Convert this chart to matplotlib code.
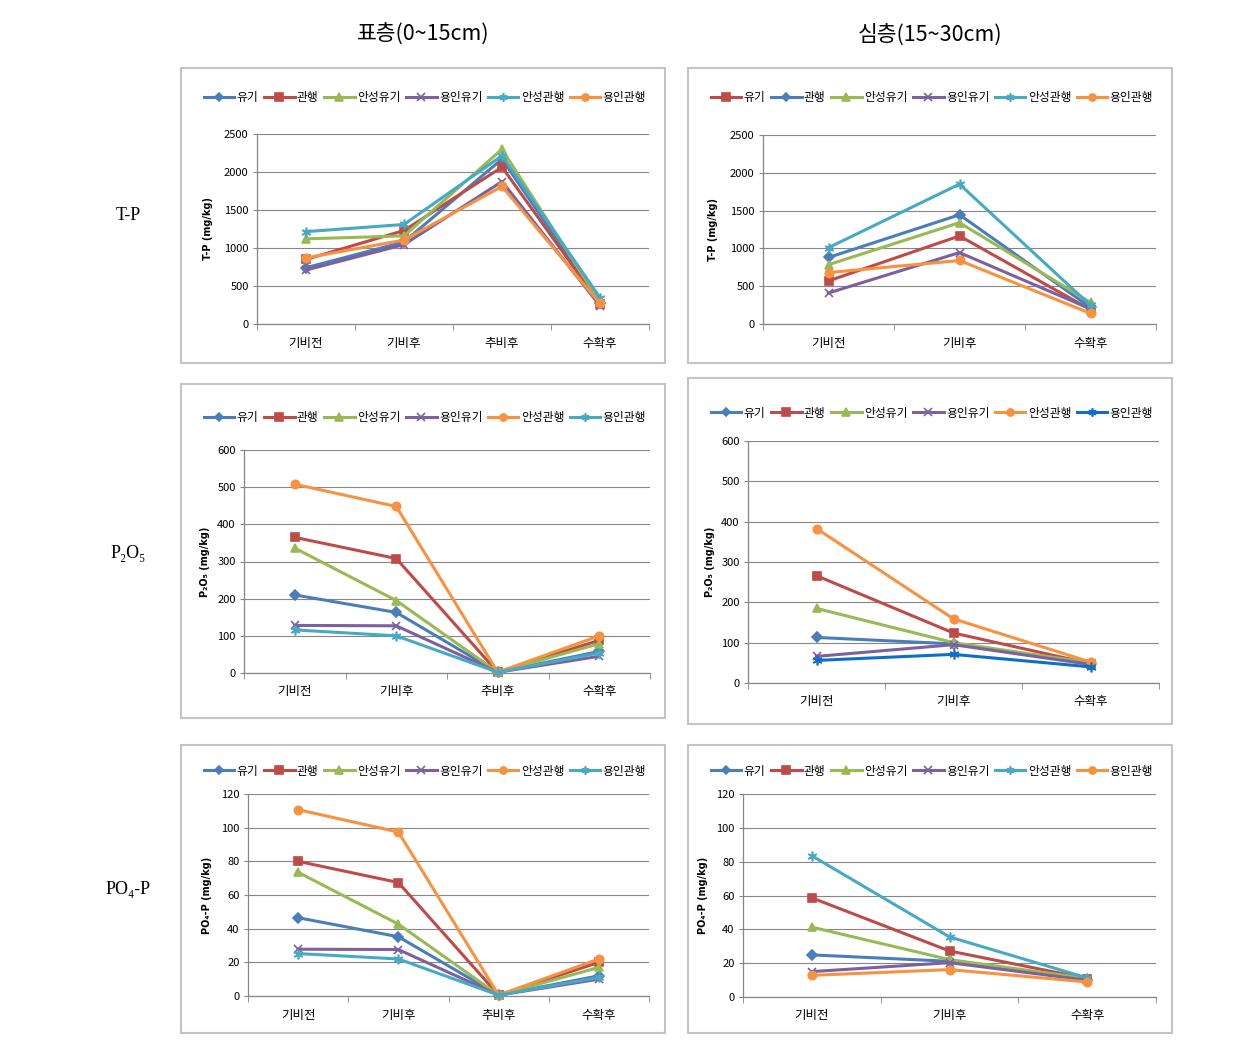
import matplotlib
matplotlib.use("Agg")
import matplotlib.pyplot as plt
from matplotlib.patches import Rectangle

plt.rcParams['font.family'] = ['Noto Sans CJK KR', 'DejaVu Sans']

CATS4 = ["기비전", "기비후", "추비후", "수확후"]
CATS3 = ["기비전", "기비후", "수확후"]
SERIES = ["유기", "관행", "안성유기", "용인유기", "안성관행", "용인관행"]

# T-P, surface (0~15cm)
TP_SURF = [[740, 1080, 2170, 280],
           [850, 1230, 2065, 265],
           [1120, 1160, 2300, 285],
           [710, 1045, 1875, 240],
           [1215, 1310, 2215, 345],
           [870, 1105, 1810, 270]]
# T-P, subsoil (15~30cm)
TP_DEEP = [[570, 1165, 190],
           [880, 1445, 220],
           [785, 1340, 285],
           [410, 945, 200],
           [1010, 1850, 245],
           [680, 840, 140]]
# P2O5, surface
P2O5_SURF = [[210, 163, 2, 58],
             [365, 308, 2, 88],
             [336, 195, 2, 79],
             [128, 127, 2, 45],
             [508, 448, 2, 100],
             [116, 100, 2, 54]]
# P2O5, subsoil
P2O5_DEEP = [[113, 97, 48],
             [266, 124, 48],
             [185, 100, 50],
             [66, 95, 46],
             [383, 159, 52],
             [56, 71, 40]]
# PO4-P, surface
PO4_SURF = [[46.5, 35.2, 0.5, 12],
            [80, 67.4, 0.5, 20],
            [73.5, 42.7, 0.5, 17],
            [27.8, 27.6, 0.5, 10],
            [110.7, 97.4, 0.5, 22],
            [25.2, 22, 0.5, 11]]
# PO4-P, subsoil
PO4_DEEP = [[24.9, 21.1, 10.3],
            [58.6, 27.2, 10.9],
            [41.3, 22.1, 11],
            [15, 20.3, 9.9],
            [83.5, 35.5, 11.3],
            [12.8, 16.2, 8.9]]

STYLES = {
    "blue": ("#4A7EBB", "D", 5),
    "red": ("#BE4B48", "s", 6),
    "green": ("#98B954", "^", 6),
    "purple": ("#7D60A0", "x", 6),
    "aqua": ("#46AAC5", (6, 2, 0), 7),
    "orange": ("#F69240", "o", 6),
    "bblue": ("#0F6FC6", (6, 2, 0), 7),
}
ST_A = ["blue", "red", "green", "purple", "aqua", "orange"]
ST_B = ["red", "blue", "green", "purple", "aqua", "orange"]
ST_C = ["blue", "red", "green", "purple", "orange", "aqua"]
ST_D = ["blue", "red", "green", "purple", "orange", "bblue"]

W, H = 1241, 1052
fig = plt.figure(figsize=(W / 100, H / 100), dpi=100)


def fx(x):
    return x / W


def fy(y):
    return 1 - y / H


def panel(frame, plot, leg_y, ylab_x, cats, values, styles, ymax, ystep, ylabel):
    x0, y0, x1, y1 = frame
    fig.patches.append(Rectangle((fx(x0), fy(y1)), fx(x1) - fx(x0), fy(y0) - fy(y1),
                                 transform=fig.transFigure, fill=False,
                                 ec="#C4C4C4", lw=1.5))
    px0, py0, px1, py1 = plot
    ax = fig.add_axes([fx(px0), fy(py1), fx(px1) - fx(px0), fy(py0) - fy(py1)])
    xs = list(range(len(cats)))
    handles = []
    for vals, st in zip(values, styles):
        c, m, ms = STYLES[st]
        ln, = ax.plot(xs, vals, color=c, lw=2.2, marker=m, ms=ms,
                      mfc=c, mec=c, mew=1.2, clip_on=False, zorder=3)
        handles.append(ln)
    ax.set_xlim(-0.5, len(cats) - 0.5)
    ax.set_ylim(0, ymax)
    ax.set_yticks(range(0, ymax + 1, ystep))
    ax.set_xticks(xs)
    ax.set_xticklabels(cats, fontsize=9)
    ax.set_xticks([i - 0.5 for i in range(len(cats) + 1)], minor=True)
    ax.tick_params(axis="x", which="major", length=0, pad=9)
    ax.tick_params(axis="x", which="minor", length=4, color="#868686", direction="out")
    ax.tick_params(axis="y", length=3, color="#868686", labelsize=8, pad=3)
    ax.grid(axis="y", color="#868686", lw=0.8)
    ax.set_axisbelow(True)
    for s in ["top", "right"]:
        ax.spines[s].set_visible(False)
    for s in ["left", "bottom"]:
        ax.spines[s].set_color("#868686")
        ax.spines[s].set_linewidth(0.9)
    fig.legend(handles, SERIES, loc="center",
               bbox_to_anchor=((fx(x0) + fx(x1)) / 2 + fx(2), fy(leg_y)),
               ncol=6, frameon=False, fontsize=8.5, handlelength=2.6,
               handletextpad=0.2, columnspacing=0.45, borderpad=0,
               markerscale=0.85)
    fig.text(fx(ylab_x), fy((py0 + py1) / 2), ylabel, rotation=90,
             ha="center", va="center", fontsize=7, fontweight="bold",
             family=["DejaVu Sans"])
    return ax


panel((181, 68, 665, 363), (257, 134, 649, 324), 98, 208, CATS4,
      TP_SURF, ST_A, 2500, 500, "T-P (mg/kg)")
panel((688, 68, 1172, 363), (763, 135, 1156, 324), 98, 713, CATS3,
      TP_DEEP, ST_B, 2500, 500, "T-P (mg/kg)")
panel((181, 384, 665, 718), (244, 450, 650, 673), 418, 205, CATS4,
      P2O5_SURF, ST_C, 600, 100, "P₂O₅ (mg/kg)")
panel((688, 378, 1172, 724), (748, 441, 1159, 683), 413, 710, CATS3,
      P2O5_DEEP, ST_D, 600, 100, "P₂O₅ (mg/kg)")
panel((181, 745, 665, 1033), (248, 794, 649, 996), 771, 207, CATS4,
      PO4_SURF, ST_C, 120, 20, "PO₄-P (mg/kg)")
panel((688, 745, 1172, 1033), (743, 794, 1156, 997), 771, 703, CATS3,
      PO4_DEEP, ST_A, 120, 20, "PO₄-P (mg/kg)")

fig.text(fx(423), fy(35), "표층(0~15cm)", ha="center", va="center", fontsize=15.5)
fig.text(fx(930), fy(35), "심층(15~30cm)", ha="center", va="center", fontsize=15.5)
serif = ["Liberation Serif", "DejaVu Serif"]
fig.text(fx(128), fy(215), "T-P", ha="center", va="center", fontsize=13, family=serif)
fig.text(fx(128), fy(553), "P₂O₅", ha="center", va="center", fontsize=13, family=serif)
fig.text(fx(128), fy(890), "PO₄-P", ha="center", va="center", fontsize=13, family=serif)

fig.savefig("out.png", dpi=100)
